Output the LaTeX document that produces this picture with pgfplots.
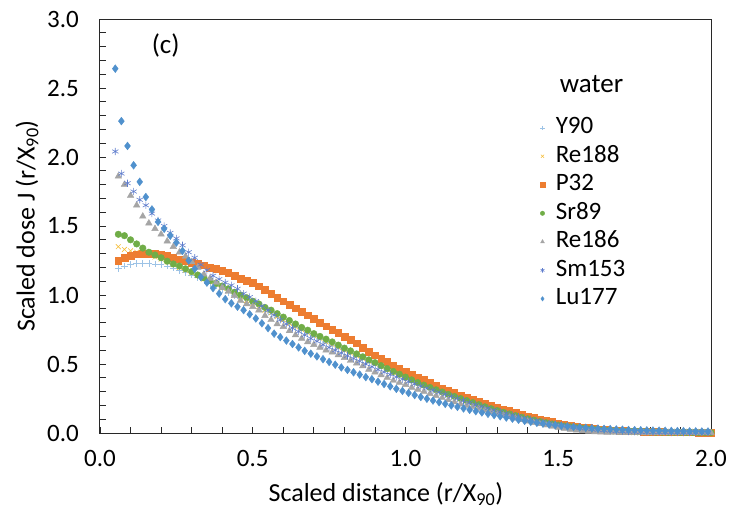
\documentclass[border=0pt]{standalone}
\usepackage{pgfplots}
\pgfplotsset{compat=1.18}
\usepackage{fontspec}
\setmainfont{Carlito}
\definecolor{cY}{RGB}{157,195,230}
\definecolor{cRe}{RGB}{245,190,60}
\definecolor{cP}{RGB}{237,125,49}
\definecolor{cSr}{RGB}{112,173,71}
\definecolor{cRes}{RGB}{165,165,165}
\definecolor{cSm}{RGB}{95,125,205}
\definecolor{cLu}{RGB}{80,145,205}
\definecolor{axc}{RGB}{40,40,40}
\begin{document}
\begin{tikzpicture}
\useasboundingbox (-100pt,-79pt) rectangle (630pt,433pt);
\begin{axis}[
  scale only axis, width=611pt, height=414pt,
  xmin=0, xmax=2, ymin=0, ymax=3,
  xtick={0,0.5,1,1.5,2}, ytick={0,0.5,1,1.5,2,2.5,3},
  minor tick num=4,
  tick align=inside, xtick pos=bottom, ytick pos=left,
  major tick length=6pt, minor tick length=6pt,
  every tick/.style={axc, line width=0.8pt},
  axis line style={axc, line width=1pt},
  /pgf/number format/assume math mode=true,
  /pgf/number format/.cd, fixed, fixed zerofill, precision=1, /pgfplots/.cd,
  tick label style={font=\fontsize{25}{30}\selectfont, inner sep=0pt},
  yticklabel style={anchor=east, xshift=-21pt},
  xticklabel style={anchor=north, yshift=-17pt},
  label style={font=\fontsize{26}{30}\selectfont},
  xlabel={Scaled distance (r/X\textsubscript{90})},
  ylabel={Scaled dose J (r/X\textsubscript{90})},
  xlabel style={at={(axis description cs:0.468,-0.147)}, anchor=center},
  ylabel style={at={(axis description cs:-0.1195,0.5)}, anchor=center},
  legend style={at={(axis cs:1.437,2.30)}, anchor=north west, draw=none, fill=none, inner sep=0pt,
    font=\fontsize{25}{30}\selectfont, row sep=4.5pt,
    nodes={inner sep=1pt, text height=17pt, text depth=5pt}},
  legend cell align=left,
  legend image code/.code={\draw[mark size=2.2pt] plot coordinates {(0pt,0pt)}; \path (-3pt,0pt) (12pt,0pt);},
]
\addplot[only marks, mark=+, mark size=3.4pt, cY, line width=0.6pt] coordinates {
(0.06,1.19)(0.08,1.21)(0.10,1.22)(0.12,1.23)(0.14,1.23)(0.16,1.23)(0.18,1.225)(0.20,1.22)(0.22,1.21)(0.24,1.195)
(0.26,1.18)(0.28,1.165)(0.30,1.145)(0.32,1.125)(0.34,1.105)(0.36,1.085)(0.38,1.065)(0.40,1.04)(0.42,1.02)(0.44,0.995)
(0.46,0.975)(0.48,0.95)(0.50,0.93)(0.52,0.905)(0.54,0.88)(0.56,0.86)(0.58,0.835)(0.60,0.81)(0.62,0.79)(0.64,0.765)
(0.66,0.745)(0.68,0.72)(0.70,0.70)(0.72,0.68)(0.74,0.655)(0.76,0.635)(0.78,0.615)(0.80,0.595)(0.82,0.575)(0.84,0.555)
(0.86,0.535)(0.88,0.515)(0.90,0.495)(0.92,0.475)(0.94,0.455)(0.96,0.44)(0.98,0.42)(1.00,0.40)(1.02,0.385)(1.04,0.365)
(1.06,0.345)(1.08,0.33)(1.10,0.31)(1.12,0.295)(1.14,0.28)(1.16,0.265)(1.18,0.25)(1.20,0.235)(1.22,0.22)(1.24,0.205)
(1.26,0.19)(1.28,0.176)(1.30,0.163)(1.32,0.15)(1.34,0.138)(1.36,0.126)(1.38,0.115)(1.40,0.104)(1.42,0.093)(1.44,0.083)
(1.46,0.074)(1.48,0.065)(1.50,0.057)(1.52,0.05)(1.54,0.043)(1.56,0.037)(1.58,0.032)(1.60,0.027)(1.62,0.023)(1.64,0.019)
(1.66,0.016)(1.68,0.014)(1.70,0.012)(1.72,0.011)(1.74,0.010)(1.76,0.009)(1.78,0.008)(1.80,0.007)(1.82,0.006)(1.84,0.006)
(1.86,0.005)(1.88,0.005)(1.90,0.004)(1.92,0.004)(1.94,0.004)(1.96,0.003)(1.98,0.003)(2.00,0.003)};
\addlegendentry{Y90}
\addplot[only marks, mark=x, mark size=3.4pt, cRe, line width=0.6pt] coordinates {
(0.06,1.35)(0.08,1.33)(0.10,1.32)(0.12,1.31)(0.14,1.30)(0.16,1.29)(0.18,1.275)(0.20,1.26)(0.22,1.24)(0.24,1.22)
(0.26,1.20)(0.28,1.18)(0.30,1.16)(0.32,1.14)(0.34,1.115)(0.36,1.095)(0.38,1.075)(0.40,1.05)(0.42,1.03)(0.44,1.005)
(0.46,0.985)(0.48,0.96)(0.50,0.94)(0.52,0.915)(0.54,0.89)(0.56,0.87)(0.58,0.845)(0.60,0.82)(0.62,0.795)(0.64,0.77)
(0.66,0.75)(0.68,0.725)(0.70,0.705)(0.72,0.685)(0.74,0.66)(0.76,0.64)(0.78,0.62)(0.80,0.60)(0.82,0.58)(0.84,0.56)
(0.86,0.54)(0.88,0.52)(0.90,0.50)(0.92,0.48)(0.94,0.46)(0.96,0.44)(0.98,0.42)(1.00,0.40)(1.02,0.382)(1.04,0.364)
(1.06,0.346)(1.08,0.33)(1.10,0.313)(1.12,0.297)(1.14,0.281)(1.16,0.266)(1.18,0.251)(1.20,0.237)(1.22,0.222)(1.24,0.208)
(1.26,0.194)(1.28,0.18)(1.30,0.167)(1.32,0.154)(1.34,0.142)(1.36,0.13)(1.38,0.118)(1.40,0.107)(1.42,0.096)(1.44,0.086)
(1.46,0.076)(1.48,0.067)(1.50,0.059)(1.52,0.051)(1.54,0.044)(1.56,0.038)(1.58,0.033)(1.60,0.028)(1.62,0.024)(1.64,0.020)
(1.66,0.017)(1.68,0.015)(1.70,0.013)(1.72,0.011)(1.74,0.010)(1.76,0.009)(1.78,0.008)(1.80,0.007)(1.82,0.006)(1.84,0.006)
(1.86,0.005)(1.88,0.005)(1.90,0.004)(1.92,0.004)(1.94,0.004)(1.96,0.003)(1.98,0.003)(2.00,0.003)};
\addlegendentry{Re188}
\addplot[only marks, mark=square*, mark size=3.3pt, cP] coordinates {
(0.06,1.25)(0.08,1.27)(0.10,1.285)(0.12,1.295)(0.14,1.30)(0.16,1.30)(0.18,1.30)(0.20,1.29)(0.22,1.285)(0.24,1.27)
(0.26,1.26)(0.28,1.25)(0.30,1.235)(0.32,1.225)(0.34,1.215)(0.36,1.20)(0.38,1.19)(0.40,1.175)(0.42,1.16)(0.44,1.14)
(0.46,1.12)(0.48,1.105)(0.50,1.09)(0.52,1.065)(0.54,1.04)(0.56,1.01)(0.58,0.98)(0.60,0.955)(0.62,0.93)(0.64,0.905)
(0.66,0.88)(0.68,0.855)(0.70,0.83)(0.72,0.80)(0.74,0.775)(0.76,0.75)(0.78,0.725)(0.80,0.70)(0.82,0.675)(0.84,0.65)
(0.86,0.62)(0.88,0.59)(0.90,0.565)(0.92,0.54)(0.94,0.515)(0.96,0.49)(0.98,0.465)(1.00,0.445)(1.02,0.425)(1.04,0.405)
(1.06,0.385)(1.08,0.365)(1.10,0.345)(1.12,0.325)(1.14,0.31)(1.16,0.29)(1.18,0.275)(1.20,0.26)(1.22,0.245)(1.24,0.23)
(1.26,0.215)(1.28,0.20)(1.30,0.185)(1.32,0.172)(1.34,0.16)(1.36,0.147)(1.38,0.135)(1.40,0.122)(1.42,0.11)(1.44,0.10)
(1.46,0.09)(1.48,0.08)(1.50,0.07)(1.52,0.062)(1.54,0.055)(1.56,0.048)(1.58,0.042)(1.60,0.037)(1.62,0.032)(1.64,0.028)
(1.66,0.024)(1.68,0.021)(1.70,0.018)(1.72,0.016)(1.74,0.014)(1.76,0.012)(1.78,0.011)(1.80,0.010)(1.82,0.009)(1.84,0.008)
(1.86,0.007)(1.88,0.006)(1.90,0.006)(1.92,0.005)(1.94,0.005)(1.96,0.004)(1.98,0.004)(2.00,0.004)};
\addlegendentry{P32}
\addplot[only marks, mark=*, mark size=3.3pt, cSr] coordinates {
(0.06,1.44)(0.08,1.43)(0.10,1.40)(0.12,1.37)(0.14,1.34)(0.16,1.31)(0.18,1.29)(0.20,1.27)(0.22,1.245)(0.24,1.225)
(0.26,1.21)(0.28,1.19)(0.30,1.17)(0.32,1.145)(0.34,1.125)(0.36,1.105)(0.38,1.085)(0.40,1.065)(0.42,1.045)(0.44,1.02)
(0.46,1.00)(0.48,0.98)(0.50,0.955)(0.52,0.935)(0.54,0.91)(0.56,0.89)(0.58,0.865)(0.60,0.84)(0.62,0.815)(0.64,0.79)
(0.66,0.765)(0.68,0.745)(0.70,0.72)(0.72,0.70)(0.74,0.68)(0.76,0.66)(0.78,0.637)(0.80,0.615)(0.82,0.595)(0.84,0.573)
(0.86,0.552)(0.88,0.53)(0.90,0.51)(0.92,0.488)(0.94,0.467)(0.96,0.446)(0.98,0.426)(1.00,0.405)(1.02,0.385)(1.04,0.365)
(1.06,0.347)(1.08,0.33)(1.10,0.313)(1.12,0.297)(1.14,0.28)(1.16,0.265)(1.18,0.25)(1.20,0.235)(1.22,0.22)(1.24,0.205)
(1.26,0.19)(1.28,0.176)(1.30,0.163)(1.32,0.15)(1.34,0.138)(1.36,0.126)(1.38,0.114)(1.40,0.103)(1.42,0.093)(1.44,0.083)
(1.46,0.074)(1.48,0.065)(1.50,0.057)(1.52,0.05)(1.54,0.044)(1.56,0.038)(1.58,0.033)(1.60,0.028)(1.62,0.024)(1.64,0.020)
(1.66,0.017)(1.68,0.015)(1.70,0.013)(1.72,0.011)(1.74,0.010)(1.76,0.009)(1.78,0.008)(1.80,0.007)(1.82,0.006)(1.84,0.006)
(1.86,0.005)(1.88,0.005)(1.90,0.004)(1.92,0.004)(1.94,0.004)(1.96,0.003)(1.98,0.003)(2.00,0.003)};
\addlegendentry{Sr89}
\addplot[only marks, mark=triangle*, mark size=3.8pt, cRes] coordinates {
(0.06,1.86)(0.08,1.80)(0.10,1.72)(0.12,1.65)(0.14,1.57)(0.16,1.52)(0.18,1.48)(0.20,1.44)(0.22,1.39)(0.24,1.35)
(0.26,1.31)(0.28,1.28)(0.30,1.24)(0.32,1.20)(0.34,1.15)(0.36,1.12)(0.38,1.09)(0.40,1.055)(0.42,1.025)(0.44,0.995)
(0.46,0.96)(0.48,0.935)(0.50,0.915)(0.52,0.89)(0.54,0.85)(0.56,0.82)(0.58,0.79)(0.60,0.77)(0.62,0.74)(0.64,0.71)
(0.66,0.685)(0.68,0.66)(0.70,0.64)(0.72,0.62)(0.74,0.60)(0.76,0.585)(0.78,0.565)(0.80,0.545)(0.82,0.525)(0.84,0.505)
(0.86,0.485)(0.88,0.46)(0.90,0.44)(0.92,0.42)(0.94,0.40)(0.96,0.38)(0.98,0.365)(1.00,0.35)(1.02,0.33)(1.04,0.315)
(1.06,0.30)(1.08,0.285)(1.10,0.27)(1.12,0.255)(1.14,0.24)(1.16,0.225)(1.18,0.21)(1.20,0.20)(1.22,0.19)(1.24,0.178)
(1.26,0.165)(1.28,0.152)(1.30,0.14)(1.32,0.128)(1.34,0.117)(1.36,0.106)(1.38,0.095)(1.40,0.085)(1.42,0.075)(1.44,0.066)
(1.46,0.057)(1.48,0.048)(1.50,0.04)(1.52,0.033)(1.54,0.026)(1.56,0.02)(1.58,0.015)(1.60,0.011)(1.62,0.008)(1.64,0.006)
(1.66,0.004)(1.68,0.003)(1.70,0.002)(1.72,0.002)(1.74,0.002)(1.76,0.002)(1.78,0.001)(1.80,0.001)(1.82,0.001)(1.84,0.001)
(1.86,0.001)(1.88,0.001)(1.90,0.001)(1.92,0.001)(1.94,0.001)(1.96,0.001)(1.98,0.001)(2.00,0.001)};
\addlegendentry{Re186}
\addplot[only marks, mark=asterisk, mark size=3.6pt, cSm, line width=0.6pt] coordinates {
(0.05,2.04)(0.07,1.88)(0.09,1.81)(0.11,1.75)(0.13,1.69)(0.15,1.65)(0.17,1.59)(0.19,1.54)(0.21,1.50)(0.23,1.45)
(0.25,1.41)(0.27,1.36)(0.29,1.31)(0.31,1.27)(0.33,1.22)(0.35,1.18)(0.37,1.14)(0.39,1.115)(0.41,1.09)(0.43,1.07)
(0.45,1.045)(0.47,1.01)(0.49,0.985)(0.51,0.955)(0.53,0.92)(0.55,0.89)(0.57,0.855)(0.59,0.82)(0.61,0.79)(0.63,0.76)
(0.65,0.735)(0.67,0.71)(0.69,0.685)(0.71,0.665)(0.73,0.64)(0.75,0.62)(0.77,0.60)(0.79,0.58)(0.81,0.56)(0.83,0.54)
(0.85,0.52)(0.87,0.50)(0.89,0.48)(0.91,0.46)(0.93,0.442)(0.95,0.424)(0.97,0.406)(0.99,0.39)(1.01,0.372)(1.03,0.356)
(1.05,0.34)(1.07,0.325)(1.09,0.31)(1.11,0.295)(1.13,0.28)(1.15,0.265)(1.17,0.25)(1.19,0.235)(1.21,0.22)(1.23,0.205)
(1.25,0.192)(1.27,0.179)(1.29,0.166)(1.31,0.154)(1.33,0.142)(1.35,0.131)(1.37,0.12)(1.39,0.109)(1.41,0.099)(1.43,0.089)
(1.45,0.08)(1.47,0.071)(1.49,0.063)(1.51,0.056)(1.53,0.049)(1.55,0.043)(1.57,0.037)(1.59,0.032)(1.61,0.027)(1.63,0.023)
(1.65,0.02)(1.67,0.017)(1.69,0.014)(1.71,0.012)(1.73,0.010)(1.75,0.009)(1.77,0.008)(1.79,0.007)(1.81,0.006)(1.83,0.005)
(1.85,0.005)(1.87,0.004)(1.89,0.004)(1.91,0.004)(1.93,0.003)(1.95,0.003)(1.97,0.003)(1.99,0.002)};
\addlegendentry{Sm153}
\addplot[only marks, mark=diamond*, mark size=3.9pt, cLu] coordinates {
(0.05,2.64)(0.07,2.26)(0.09,2.08)(0.11,1.94)(0.13,1.82)(0.15,1.71)(0.17,1.62)(0.19,1.53)(0.21,1.48)(0.23,1.43)
(0.25,1.38)(0.27,1.32)(0.29,1.25)(0.31,1.19)(0.33,1.13)(0.35,1.09)(0.37,1.05)(0.39,1.01)(0.41,0.97)(0.43,0.94)
(0.45,0.915)(0.47,0.89)(0.49,0.86)(0.51,0.83)(0.53,0.795)(0.55,0.76)(0.57,0.72)(0.59,0.695)(0.61,0.67)(0.63,0.645)
(0.65,0.62)(0.67,0.595)(0.69,0.575)(0.71,0.555)(0.73,0.535)(0.75,0.515)(0.77,0.495)(0.79,0.475)(0.81,0.457)(0.83,0.44)
(0.85,0.423)(0.87,0.405)(0.89,0.39)(0.91,0.372)(0.93,0.355)(0.95,0.338)(0.97,0.32)(0.99,0.305)(1.01,0.29)(1.03,0.275)
(1.05,0.261)(1.07,0.248)(1.09,0.235)(1.11,0.223)(1.13,0.211)(1.15,0.2)(1.17,0.189)(1.19,0.178)(1.21,0.168)(1.23,0.158)
(1.25,0.149)(1.27,0.139)(1.29,0.13)(1.31,0.121)(1.33,0.112)(1.35,0.104)(1.37,0.096)(1.39,0.088)(1.41,0.081)(1.43,0.074)
(1.45,0.068)(1.47,0.062)(1.49,0.057)(1.51,0.052)(1.53,0.048)(1.55,0.044)(1.57,0.041)(1.59,0.038)(1.61,0.035)(1.63,0.032)
(1.65,0.03)(1.67,0.028)(1.69,0.026)(1.71,0.024)(1.73,0.022)(1.75,0.021)(1.77,0.02)(1.79,0.019)(1.81,0.018)(1.83,0.017)
(1.85,0.016)(1.87,0.015)(1.89,0.014)(1.91,0.013)(1.93,0.012)(1.95,0.012)(1.97,0.011)(1.99,0.011)};
\addlegendentry{Lu177}
\node[anchor=center, font=\fontsize{27}{30}\selectfont] at (axis cs:0.215,2.81) {(c)};
\node[anchor=west, font=\fontsize{27}{30}\selectfont, inner sep=0pt] at (axis cs:1.505,2.53) {water};
\end{axis}
\end{tikzpicture}
\end{document}
